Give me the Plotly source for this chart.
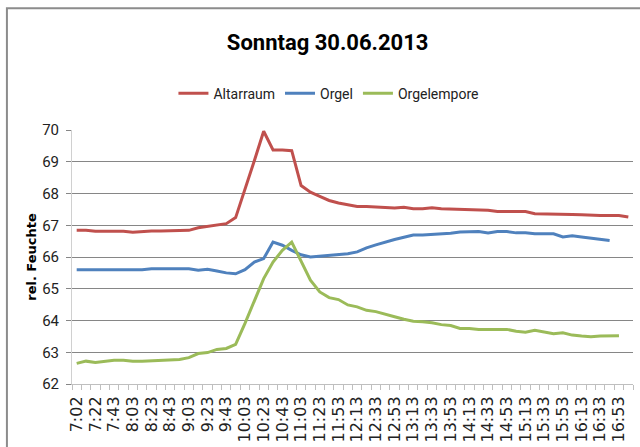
import plotly.graph_objects as go

times = [
    "7:02", "7:12", "7:22", "7:33", "7:43", "7:53", "8:03", "8:13", "8:23", "8:33",
    "8:43", "8:53", "9:03", "9:13", "9:23", "9:33", "9:43", "9:53", "10:03", "10:13",
    "10:23", "10:33", "10:43", "10:53", "11:03", "11:13", "11:23", "11:43", "11:53", "12:03",
    "12:13", "12:23", "12:33", "12:43", "12:53", "13:03", "13:13", "13:23", "13:33", "13:43",
    "13:53", "14:03", "14:13", "14:23", "14:33", "14:43", "14:53", "15:03", "15:13", "15:23",
    "15:33", "15:43", "15:53", "16:03", "16:13", "16:23", "16:33", "16:43", "16:53", "17:03",
]

altarraum = [
    66.84, 66.84, 66.81, 66.81, 66.81, 66.81, 66.78, 66.81, 66.82, 66.82,
    66.82, 66.82, 66.84, 66.92, 66.97, 67.00, 67.05, 67.24, 68.12, 69.03,
    69.96, 69.37, 69.37, 69.35, 68.25, 68.04, 67.91, 67.78, 67.70, 67.64,
    67.59, 67.59, 67.57, 67.56, 67.54, 67.57, 67.52, 67.52, 67.55, 67.52,
    67.51, 67.49, 67.47, 67.47, 67.47, 67.43, 67.43, 67.44, 67.43, 67.36,
    67.36, 67.34, 67.34, 67.34, 67.33, 67.31, 67.31, 67.31, 67.31, 67.26,
]

orgel = [
    65.60, 65.60, 65.60, 65.60, 65.60, 65.60, 65.62, 65.60, 65.63, 65.63,
    65.61, 65.62, 65.63, 65.58, 65.61, 65.56, 65.50, 65.47, 65.60, 65.84,
    65.95, 66.47, 66.37, 66.21, 66.07, 66.00, 66.02, 66.05, 66.07, 66.10,
    66.16, 66.29, 66.38, 66.47, 66.55, 66.62, 66.69, 66.69, 66.71, 66.72,
    66.75, 66.79, 66.80, 66.80, 66.76, 66.80, 66.80, 66.76, 66.76, 66.73,
    66.73, 66.73, 66.63, 66.67, 66.63, 66.60, 66.57, 66.52, None, None,
]

orgelempore = [
    62.65, 62.72, 62.68, 62.72, 62.75, 62.75, 62.72, 62.72, 62.73, 62.75,
    62.75, 62.77, 62.83, 62.96, 62.99, 63.09, 63.12, 63.25, 63.91, 64.64,
    65.32, 65.84, 66.21, 66.47, 65.86, 65.27, 64.90, 64.72, 64.66, 64.49,
    64.43, 64.32, 64.28, 64.19, 64.12, 64.04, 63.98, 63.96, 63.93, 63.87,
    63.84, 63.75, 63.75, 63.72, 63.72, 63.73, 63.72, 63.66, 63.63, 63.69,
    63.63, 63.58, 63.61, 63.54, 63.51, 63.49, 63.51, 63.52, 63.52, None,
]

series_colors = {
    "Altarraum": "#C0504D",
    "Orgel": "#4F81BD",
    "Orgelempore": "#9BBB59",
}

narrow = "Liberation Sans Narrow, Roboto, sans-serif"

idx = list(range(len(times)))

fig = go.Figure()
for name, values in [("Altarraum", altarraum), ("Orgel", orgel), ("Orgelempore", orgelempore)]:
    fig.add_trace(go.Scatter(x=idx, y=values, mode="lines", name=name,
                             line=dict(color=series_colors[name], width=3)))

fig.update_layout(
    width=640,
    height=447,
    template="none",
    paper_bgcolor="white",
    plot_bgcolor="white",
    margin=dict(l=72, r=7, t=130, b=63, autoexpand=False),
    title=dict(text="<b>Sonntag 30.06.2013</b>", x=0.512, xanchor="center",
               y=0.906, yanchor="middle", xref="container", yref="container",
               font=dict(family=narrow, size=22, color="black")),
    legend=dict(orientation="h", x=0.458, xanchor="center", y=1.143, yanchor="middle",
                font=dict(family=narrow, size=14, color="#222"), itemwidth=30,
                bgcolor="rgba(0,0,0,0)"),
    showlegend=True,
)

fig.update_xaxes(
    range=[-0.5, len(times) - 0.5],
    tickmode="array",
    tickvals=idx[::2],
    ticktext=times[::2],
    tickangle=-90,
    ticks="",
    ticklabelstandoff=5,
    tickfont=dict(family="DejaVu Sans, sans-serif", size=16, color="#222"),
    showgrid=False,
    zeroline=False,
    showline=True,
    linecolor="#bfbfbf",
    linewidth=1,
    automargin=False,
    minor=dict(tickmode="array", tickvals=[i - 0.5 for i in range(len(times) + 1)],
               ticks="outside", ticklen=5, tickcolor="#bfbfbf", showgrid=False),
)

fig.update_yaxes(
    range=[62, 70],
    dtick=1,
    tick0=62,
    showgrid=True,
    gridcolor="#868686",
    gridwidth=1,
    zeroline=False,
    showline=True,
    linecolor="#d0d0d0",
    ticks="outside",
    ticklen=5,
    tickcolor="#868686",
    ticklabelstandoff=4,
    tickfont=dict(family=narrow, size=15, color="#222"),
    title=dict(text="<b>rel. Feuchte</b>", standoff=2,
               font=dict(family="DejaVu Sans, sans-serif", size=13, color="black")),
    automargin=False,
)

# chart frame (top and left edges visible in the picture)
fig.add_shape(type="path", xref="paper", yref="paper",
              path="M -0.116,-0.3 L -0.116,1.479 L 1.05,1.479",
              line=dict(color="#8c8c8c", width=2))

fig.write_html("out.html", config={"displayModeBar": False},
               post_script="document.body.style.margin='0';")
